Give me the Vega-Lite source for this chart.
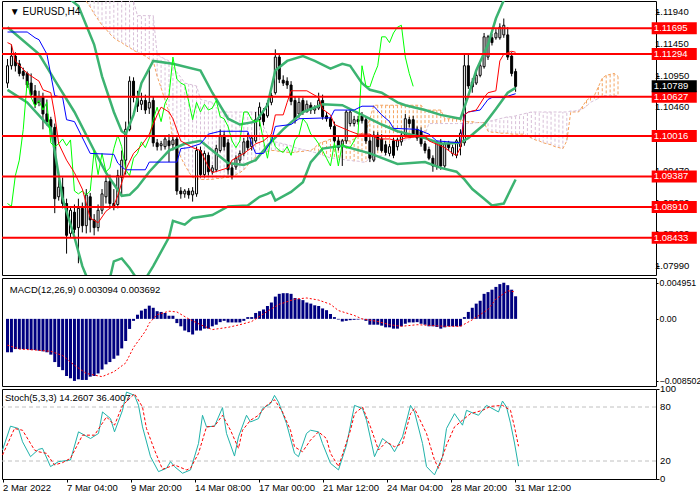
{
  "$schema": "https://vega.github.io/schema/vega-lite/v6.json",
  "background": "white",
  "padding": 0,
  "spacing": 3,
  "bounds": "flush",
  "config": {
    "view": {"stroke": "#000", "strokeWidth": 1},
    "axis": {"grid": false, "domain": false, "labelOverlap": false, "labelFont": "Liberation Sans", "labelFontSize": 9.5, "labelColor": "#000", "tickColor": "#000", "tickSize": 3, "labelPadding": 2},
    "text": {"font": "Liberation Sans"}
  },
  "datasets": {
    "candles": [
      {"i":0,"o":1.1084,"h":1.11215,"l":1.10765,"c":1.1111},
      {"i":1,"o":1.1111,"h":1.1144,"l":1.1105,"c":1.1126},
      {"i":2,"o":1.1126,"h":1.1132,"l":1.1102,"c":1.1111},
      {"i":3,"o":1.1114,"h":1.112,"l":1.10945,"c":1.1099},
      {"i":4,"o":1.1102,"h":1.1108,"l":1.109,"c":1.1096},
      {"i":5,"o":1.1099,"h":1.1102,"l":1.10765,"c":1.1081},
      {"i":6,"o":1.1084,"h":1.1099,"l":1.10615,"c":1.1066},
      {"i":7,"o":1.1072,"h":1.1081,"l":1.1045,"c":1.1051},
      {"i":8,"o":1.1054,"h":1.1072,"l":1.1048,"c":1.1063},
      {"i":9,"o":1.1063,"h":1.1069,"l":1.1012,"c":1.1036},
      {"i":10,"o":1.1036,"h":1.10585,"l":1.1018,"c":1.1024},
      {"i":11,"o":1.1027,"h":1.10315,"l":1.1012,"c":1.1015},
      {"i":12,"o":1.1015,"h":1.1021,"l":1.08815,"c":1.0904},
      {"i":13,"o":1.0907,"h":1.0934,"l":1.0901,"c":1.0922},
      {"i":14,"o":1.0922,"h":1.0937,"l":1.0889,"c":1.08965},
      {"i":15,"o":1.08965,"h":1.0904,"l":1.08185,"c":1.0847},
      {"i":16,"o":1.085,"h":1.0892,"l":1.0844,"c":1.0886},
      {"i":17,"o":1.0883,"h":1.0895,"l":1.085,"c":1.0856},
      {"i":18,"o":1.0859,"h":1.0904,"l":1.08035,"c":1.0889},
      {"i":19,"o":1.0889,"h":1.0898,"l":1.08515,"c":1.0862},
      {"i":20,"o":1.0862,"h":1.0919,"l":1.085,"c":1.091},
      {"i":21,"o":1.0907,"h":1.0913,"l":1.08515,"c":1.0871},
      {"i":22,"o":1.0871,"h":1.088,"l":1.0847,"c":1.0859},
      {"i":23,"o":1.0859,"h":1.0895,"l":1.0853,"c":1.0886},
      {"i":24,"o":1.0886,"h":1.0919,"l":1.088,"c":1.09115},
      {"i":25,"o":1.0907,"h":1.094,"l":1.08965,"c":1.0931},
      {"i":26,"o":1.0931,"h":1.09415,"l":1.0889,"c":1.08965},
      {"i":27,"o":1.08965,"h":1.0919,"l":1.0886,"c":1.0892},
      {"i":28,"o":1.0895,"h":1.0949,"l":1.0889,"c":1.094},
      {"i":29,"o":1.0937,"h":1.0979,"l":1.0907,"c":1.0964},
      {"i":30,"o":1.0964,"h":1.1024,"l":1.09415,"c":1.1012},
      {"i":31,"o":1.1012,"h":1.10945,"l":1.1009,"c":1.1087},
      {"i":32,"o":1.1087,"h":1.1093,"l":1.1054,"c":1.10615},
      {"i":33,"o":1.10615,"h":1.1072,"l":1.1039,"c":1.1048},
      {"i":34,"o":1.1051,"h":1.1069,"l":1.1042,"c":1.1057},
      {"i":35,"o":1.1057,"h":1.1066,"l":1.1036,"c":1.1042},
      {"i":36,"o":1.1045,"h":1.11065,"l":1.1036,"c":1.1054},
      {"i":37,"o":1.1057,"h":1.1063,"l":1.0985,"c":1.0991},
      {"i":38,"o":1.0991,"h":1.0997,"l":1.0979,"c":1.0985},
      {"i":39,"o":1.09865,"h":1.0994,"l":1.0979,"c":1.09895},
      {"i":40,"o":1.0985,"h":1.10015,"l":1.09805,"c":1.0997},
      {"i":41,"o":1.0994,"h":1.10045,"l":1.0961,"c":1.09865},
      {"i":42,"o":1.0988,"h":1.1,"l":1.0979,"c":1.09955},
      {"i":43,"o":1.0997,"h":1.1,"l":1.091,"c":1.0916},
      {"i":44,"o":1.0916,"h":1.0922,"l":1.0904,"c":1.09115},
      {"i":45,"o":1.09115,"h":1.0919,"l":1.09055,"c":1.0916},
      {"i":46,"o":1.0916,"h":1.09205,"l":1.0904,"c":1.091},
      {"i":47,"o":1.091,"h":1.0922,"l":1.08995,"c":1.0916},
      {"i":48,"o":1.09115,"h":1.0985,"l":1.0907,"c":1.0979},
      {"i":49,"o":1.0979,"h":1.0985,"l":1.0937,"c":1.09415},
      {"i":50,"o":1.09415,"h":1.0979,"l":1.0937,"c":1.09745},
      {"i":51,"o":1.09715,"h":1.0976,"l":1.094,"c":1.0946},
      {"i":52,"o":1.0946,"h":1.09565,"l":1.09415,"c":1.0952},
      {"i":53,"o":1.0949,"h":1.0988,"l":1.0946,"c":1.0982},
      {"i":54,"o":1.0979,"h":1.1012,"l":1.0976,"c":1.1003},
      {"i":55,"o":1.1003,"h":1.1009,"l":1.0979,"c":1.0985},
      {"i":56,"o":1.0991,"h":1.0997,"l":1.09415,"c":1.0949},
      {"i":57,"o":1.0952,"h":1.0958,"l":1.0934,"c":1.094},
      {"i":58,"o":1.09535,"h":1.09715,"l":1.0949,"c":1.0967},
      {"i":59,"o":1.0964,"h":1.0979,"l":1.09595,"c":1.09745},
      {"i":60,"o":1.09745,"h":1.09985,"l":1.097,"c":1.09925},
      {"i":61,"o":1.0994,"h":1.1006,"l":1.0979,"c":1.09835},
      {"i":62,"o":1.0985,"h":1.1003,"l":1.0979,"c":1.09985},
      {"i":63,"o":1.0994,"h":1.1039,"l":1.0991,"c":1.1027},
      {"i":64,"o":1.1027,"h":1.1054,"l":1.10165,"c":1.10465},
      {"i":65,"o":1.1036,"h":1.1045,"l":1.1018,"c":1.1024},
      {"i":66,"o":1.1033,"h":1.1057,"l":1.103,"c":1.10525},
      {"i":67,"o":1.1054,"h":1.1069,"l":1.10495,"c":1.10645},
      {"i":68,"o":1.1069,"h":1.11365,"l":1.1066,"c":1.11245},
      {"i":69,"o":1.11245,"h":1.1129,"l":1.1084,"c":1.109},
      {"i":70,"o":1.10885,"h":1.1096,"l":1.10795,"c":1.1084},
      {"i":71,"o":1.1087,"h":1.1093,"l":1.1075,"c":1.1081},
      {"i":72,"o":1.1081,"h":1.1087,"l":1.10495,"c":1.10555},
      {"i":73,"o":1.1057,"h":1.1063,"l":1.1021,"c":1.1027},
      {"i":74,"o":1.1036,"h":1.10615,"l":1.103,"c":1.1054},
      {"i":75,"o":1.1057,"h":1.10615,"l":1.10345,"c":1.1039},
      {"i":76,"o":1.1039,"h":1.1057,"l":1.1039,"c":1.1051},
      {"i":77,"o":1.10495,"h":1.1054,"l":1.1036,"c":1.1042},
      {"i":78,"o":1.1042,"h":1.10495,"l":1.1036,"c":1.1045},
      {"i":79,"o":1.1045,"h":1.1069,"l":1.1042,"c":1.1057},
      {"i":80,"o":1.1057,"h":1.1066,"l":1.1027,"c":1.10315},
      {"i":81,"o":1.1033,"h":1.1039,"l":1.1024,"c":1.10285},
      {"i":82,"o":1.10285,"h":1.10315,"l":1.1012,"c":1.10165},
      {"i":83,"o":1.10165,"h":1.1024,"l":1.0991,"c":1.0994},
      {"i":84,"o":1.0994,"h":1.1,"l":1.0979,"c":1.09835},
      {"i":85,"o":1.0985,"h":1.0997,"l":1.0955,"c":1.0994},
      {"i":86,"o":1.0994,"h":1.1042,"l":1.09895,"c":1.1039},
      {"i":87,"o":1.1021,"h":1.1045,"l":1.10165,"c":1.1039},
      {"i":88,"o":1.1021,"h":1.1033,"l":1.10165,"c":1.1027},
      {"i":89,"o":1.1027,"h":1.1033,"l":1.10195,"c":1.1024},
      {"i":90,"o":1.1033,"h":1.1039,"l":1.1021,"c":1.10255},
      {"i":91,"o":1.1027,"h":1.10315,"l":1.09895,"c":1.0994},
      {"i":92,"o":1.0994,"h":1.1,"l":1.0961,"c":1.0967},
      {"i":93,"o":1.0964,"h":1.1009,"l":1.0961,"c":1.1003},
      {"i":94,"o":1.1003,"h":1.10075,"l":1.0979,"c":1.0985},
      {"i":95,"o":1.0997,"h":1.10045,"l":1.0976,"c":1.0979},
      {"i":96,"o":1.0988,"h":1.0994,"l":1.09715,"c":1.0976},
      {"i":97,"o":1.09745,"h":1.09895,"l":1.097,"c":1.0985},
      {"i":98,"o":1.0994,"h":1.09985,"l":1.0967,"c":1.09715},
      {"i":99,"o":1.0985,"h":1.09985,"l":1.0979,"c":1.09955},
      {"i":100,"o":1.09925,"h":1.1009,"l":1.09865,"c":1.1003},
      {"i":101,"o":1.1003,"h":1.1036,"l":1.1,"c":1.10285},
      {"i":102,"o":1.1027,"h":1.10315,"l":1.1015,"c":1.1021},
      {"i":103,"o":1.1027,"h":1.1033,"l":1.1,"c":1.10045},
      {"i":104,"o":1.1012,"h":1.10165,"l":1.0994,"c":1.09985},
      {"i":105,"o":1.1009,"h":1.1015,"l":1.0985,"c":1.09895},
      {"i":106,"o":1.09895,"h":1.0994,"l":1.09745,"c":1.0979},
      {"i":107,"o":1.09805,"h":1.0985,"l":1.0964,"c":1.0967},
      {"i":108,"o":1.0967,"h":1.09715,"l":1.0946,"c":1.0955},
      {"i":109,"o":1.0955,"h":1.0994,"l":1.0949,"c":1.0991},
      {"i":110,"o":1.0991,"h":1.0997,"l":1.0949,"c":1.0955},
      {"i":111,"o":1.0955,"h":1.0994,"l":1.0952,"c":1.09895},
      {"i":112,"o":1.09895,"h":1.0994,"l":1.0979,"c":1.09835},
      {"i":113,"o":1.09745,"h":1.0988,"l":1.097,"c":1.09835},
      {"i":114,"o":1.09715,"h":1.0997,"l":1.0967,"c":1.0994},
      {"i":115,"o":1.0985,"h":1.1012,"l":1.09715,"c":1.1006},
      {"i":116,"o":1.0991,"h":1.1129,"l":1.09865,"c":1.1111},
      {"i":117,"o":1.1111,"h":1.1129,"l":1.1075,"c":1.10795},
      {"i":118,"o":1.10855,"h":1.10915,"l":1.1069,"c":1.1078},
      {"i":119,"o":1.1084,"h":1.1102,"l":1.1081,"c":1.1096},
      {"i":120,"o":1.1096,"h":1.1117,"l":1.1093,"c":1.1111},
      {"i":121,"o":1.11095,"h":1.1162,"l":1.11065,"c":1.1156},
      {"i":122,"o":1.11245,"h":1.1159,"l":1.112,"c":1.1156},
      {"i":123,"o":1.11545,"h":1.11605,"l":1.11425,"c":1.1147},
      {"i":124,"o":1.11545,"h":1.1168,"l":1.11515,"c":1.1162},
      {"i":125,"o":1.11545,"h":1.1177,"l":1.11515,"c":1.1171},
      {"i":126,"o":1.1159,"h":1.11845,"l":1.11545,"c":1.1174},
      {"i":127,"o":1.1159,"h":1.1171,"l":1.112,"c":1.11245},
      {"i":128,"o":1.1126,"h":1.1132,"l":1.10945,"c":1.1099},
      {"i":129,"o":1.1102,"h":1.11065,"l":1.10705,"c":1.10789}
    ],
    "cloud": [
      {"i":20,"a":1.12115,"b":1.1234},{"i":21,"a":1.12025,"b":1.12325},{"i":22,"a":1.1192,"b":1.1231},{"i":23,"a":1.1183,"b":1.1228},
      {"i":24,"a":1.1174,"b":1.12265},{"i":25,"a":1.1168,"b":1.1225},{"i":26,"a":1.11605,"b":1.12235},{"i":27,"a":1.11545,"b":1.12205},
      {"i":28,"a":1.115,"b":1.1219},{"i":29,"a":1.1147,"b":1.12175},{"i":30,"a":1.11425,"b":1.1216},{"i":31,"a":1.11395,"b":1.1213},
      {"i":32,"a":1.1135,"b":1.12115},{"i":33,"a":1.1132,"b":1.1189},{"i":34,"a":1.1129,"b":1.1189},{"i":35,"a":1.1126,"b":1.1189},
      {"i":36,"a":1.11215,"b":1.1189},{"i":37,"a":1.11185,"b":1.1189},{"i":38,"a":1.10945,"b":1.1129},{"i":39,"a":1.10765,"b":1.11245},
      {"i":40,"a":1.1057,"b":1.11215},{"i":41,"a":1.1039,"b":1.11185},{"i":42,"a":1.0994,"b":1.11095},{"i":43,"a":1.0982,"b":1.11005},
      {"i":44,"a":1.09685,"b":1.1093},{"i":45,"a":1.09565,"b":1.1084},{"i":46,"a":1.0946,"b":1.10825},{"i":47,"a":1.0937,"b":1.1081},
      {"i":48,"a":1.09355,"b":1.10795},{"i":49,"a":1.0934,"b":1.10585},{"i":50,"a":1.0934,"b":1.1057},{"i":51,"a":1.0934,"b":1.10555},
      {"i":52,"a":1.0934,"b":1.1054},{"i":53,"a":1.09355,"b":1.10465},{"i":54,"a":1.09355,"b":1.1039},{"i":55,"a":1.0937,"b":1.1039},
      {"i":56,"a":1.0937,"b":1.1039},{"i":57,"a":1.0937,"b":1.1039},{"i":58,"a":1.09415,"b":1.1039},{"i":59,"a":1.09445,"b":1.1039},
      {"i":60,"a":1.0949,"b":1.1039},{"i":61,"a":1.09565,"b":1.1039},{"i":62,"a":1.0964,"b":1.1039},{"i":63,"a":1.09685,"b":1.1039},
      {"i":64,"a":1.09715,"b":1.1039},{"i":65,"a":1.0976,"b":1.10165},{"i":66,"a":1.09775,"b":1.10045},{"i":67,"a":1.0979,"b":1.0994},
      {"i":68,"a":1.0979,"b":1.09925},{"i":69,"a":1.09775,"b":1.0991},{"i":70,"a":1.09775,"b":1.09895},{"i":71,"a":1.0976,"b":1.0988},
      {"i":72,"a":1.0976,"b":1.09865},{"i":73,"a":1.0976,"b":1.09835},{"i":74,"a":1.09775,"b":1.0982},{"i":75,"a":1.09775,"b":1.09805},
      {"i":76,"a":1.0979,"b":1.0979},{"i":77,"a":1.0979,"b":1.09775},{"i":78,"a":1.09835,"b":1.0976},{"i":79,"a":1.09895,"b":1.09745},
      {"i":80,"a":1.09925,"b":1.09715},{"i":81,"a":1.0994,"b":1.097},{"i":82,"a":1.0997,"b":1.0967},{"i":83,"a":1.0997,"b":1.0967},
      {"i":84,"a":1.09955,"b":1.09655},{"i":85,"a":1.09955,"b":1.09655},{"i":86,"a":1.0994,"b":1.0964},{"i":87,"a":1.0994,"b":1.0964},
      {"i":88,"a":1.0997,"b":1.09625},{"i":89,"a":1.10015,"b":1.09625},{"i":90,"a":1.1006,"b":1.0961},{"i":91,"a":1.1009,"b":1.0961},
      {"i":92,"a":1.10285,"b":1.09685},{"i":93,"a":1.10495,"b":1.097},{"i":94,"a":1.10495,"b":1.097},{"i":95,"a":1.10495,"b":1.09715},
      {"i":96,"a":1.10495,"b":1.09715},{"i":97,"a":1.10495,"b":1.09775},{"i":98,"a":1.10495,"b":1.0982},{"i":99,"a":1.10495,"b":1.0988},
      {"i":100,"a":1.10495,"b":1.0994},{"i":101,"a":1.10495,"b":1.09955},{"i":102,"a":1.10495,"b":1.0997},{"i":103,"a":1.10495,"b":1.1},
      {"i":104,"a":1.10495,"b":1.10015},{"i":105,"a":1.10495,"b":1.1003},{"i":106,"a":1.1042,"b":1.10045},{"i":107,"a":1.1042,"b":1.1021},
      {"i":108,"a":1.1042,"b":1.1021},{"i":109,"a":1.1042,"b":1.1021},{"i":110,"a":1.1042,"b":1.1021},{"i":111,"a":1.10285,"b":1.1021},
      {"i":112,"a":1.10285,"b":1.1021},{"i":113,"a":1.10285,"b":1.1021},{"i":114,"a":1.10285,"b":1.1021},{"i":115,"a":1.10285,"b":1.1021},
      {"i":116,"a":1.1024,"b":1.1021},{"i":117,"a":1.1024,"b":1.1021},{"i":118,"a":1.1024,"b":1.1021},{"i":119,"a":1.10225,"b":1.10225},
      {"i":120,"a":1.10225,"b":1.10225},{"i":121,"a":1.10225,"b":1.10225},{"i":122,"a":1.1009,"b":1.1024},{"i":123,"a":1.10075,"b":1.10255},
      {"i":124,"a":1.10075,"b":1.1027},{"i":125,"a":1.1006,"b":1.10285},{"i":126,"a":1.1006,"b":1.103},{"i":127,"a":1.1006,"b":1.10315},
      {"i":128,"a":1.10045,"b":1.10315},{"i":129,"a":1.10045,"b":1.1033},{"i":130,"a":1.10045,"b":1.10345},{"i":131,"a":1.10045,"b":1.1036},
      {"i":132,"a":1.10015,"b":1.10375},{"i":133,"a":1.09985,"b":1.1039},{"i":134,"a":1.09955,"b":1.1039},{"i":135,"a":1.0994,"b":1.1039},
      {"i":136,"a":1.0991,"b":1.1039},{"i":137,"a":1.09895,"b":1.1039},{"i":138,"a":1.0988,"b":1.1039},{"i":139,"a":1.0985,"b":1.1039},
      {"i":140,"a":1.09835,"b":1.1039},{"i":141,"a":1.0982,"b":1.1039},{"i":142,"a":1.0994,"b":1.1039},{"i":143,"a":1.1039,"b":1.10405},
      {"i":144,"a":1.1039,"b":1.10405},{"i":145,"a":1.1039,"b":1.1042},{"i":146,"a":1.1048,"b":1.10435},{"i":147,"a":1.1057,"b":1.1048},
      {"i":148,"a":1.10615,"b":1.1054},{"i":149,"a":1.10645,"b":1.1057},{"i":150,"a":1.1078,"b":1.106},{"i":151,"a":1.10915,"b":1.10645},
      {"i":152,"a":1.1096,"b":1.10645},{"i":153,"a":1.10975,"b":1.10645},{"i":154,"a":1.1099,"b":1.10645},{"i":155,"a":1.10945,"b":1.10645}
    ],
    "bb": [
      {"i":0,"s":"up","v":1.12685},{"i":4,"s":"up","v":1.12565},{"i":8,"s":"up","v":1.12415},{"i":12,"s":"up","v":1.1234},{"i":15,"s":"up","v":1.1219},
      {"i":18,"s":"up","v":1.1204},{"i":22,"s":"up","v":1.1144},{"i":24,"s":"up","v":1.10945},{"i":27,"s":"up","v":1.1039},{"i":29,"s":"up","v":1.1009},
      {"i":30,"s":"up","v":1.10045},{"i":32,"s":"up","v":1.10345},{"i":34,"s":"up","v":1.1084},{"i":37,"s":"up","v":1.11185},{"i":42,"s":"up","v":1.1114},
      {"i":49,"s":"up","v":1.11035},{"i":52,"s":"up","v":1.1069},{"i":56,"s":"up","v":1.10285},{"i":59,"s":"up","v":1.10195},{"i":63,"s":"up","v":1.1024},
      {"i":66,"s":"up","v":1.10495},{"i":68,"s":"up","v":1.11035},{"i":71,"s":"up","v":1.11185},{"i":75,"s":"up","v":1.1126},{"i":78,"s":"up","v":1.11185},
      {"i":82,"s":"up","v":1.11065},{"i":85,"s":"up","v":1.1114},{"i":87,"s":"up","v":1.1111},{"i":90,"s":"up","v":1.1084},{"i":92,"s":"up","v":1.10735},
      {"i":95,"s":"up","v":1.1069},{"i":99,"s":"up","v":1.1054},{"i":101,"s":"up","v":1.10495},{"i":106,"s":"up","v":1.1042},{"i":110,"s":"up","v":1.10345},
      {"i":115,"s":"up","v":1.10285},{"i":117,"s":"up","v":1.10645},{"i":119,"s":"up","v":1.11035},{"i":122,"s":"up","v":1.1144},{"i":124,"s":"up","v":1.11845},
      {"i":126,"s":"up","v":1.1213},{"i":129,"s":"up","v":1.1249},
      {"i":0,"s":"mid","v":1.1171},{"i":8,"s":"mid","v":1.1129},{"i":12,"s":"mid","v":1.10885},{"i":17,"s":"mid","v":1.1039},{"i":22,"s":"mid","v":1.0979},
      {"i":25,"s":"mid","v":1.09445},{"i":29,"s":"mid","v":1.09085},{"i":31,"s":"mid","v":1.091},{"i":33,"s":"mid","v":1.0922},{"i":36,"s":"mid","v":1.0946},
      {"i":41,"s":"mid","v":1.0979},{"i":45,"s":"mid","v":1.09895},{"i":49,"s":"mid","v":1.0994},{"i":52,"s":"mid","v":1.0979},{"i":56,"s":"mid","v":1.09595},
      {"i":60,"s":"mid","v":1.09565},{"i":63,"s":"mid","v":1.0964},{"i":66,"s":"mid","v":1.09865},{"i":70,"s":"mid","v":1.1012},{"i":75,"s":"mid","v":1.1039},
      {"i":80,"s":"mid","v":1.1051},{"i":85,"s":"mid","v":1.10495},{"i":90,"s":"mid","v":1.10345},{"i":95,"s":"mid","v":1.10195},{"i":99,"s":"mid","v":1.1009},
      {"i":102,"s":"mid","v":1.10045},{"i":106,"s":"mid","v":1.09985},{"i":110,"s":"mid","v":1.09895},{"i":115,"s":"mid","v":1.0991},{"i":117,"s":"mid","v":1.09985},
      {"i":121,"s":"mid","v":1.10195},{"i":124,"s":"mid","v":1.10435},{"i":127,"s":"mid","v":1.1069},{"i":129,"s":"mid","v":1.10765},
      {"i":0,"s":"lo","v":1.10735},{"i":5,"s":"lo","v":1.1054},{"i":11,"s":"lo","v":1.10135},{"i":14,"s":"lo","v":1.0904},{"i":17,"s":"lo","v":1.0844},
      {"i":19,"s":"lo","v":1.0799},{"i":22,"s":"lo","v":1.0754},{"i":25,"s":"lo","v":1.0754},{"i":27,"s":"lo","v":1.08065},{"i":29,"s":"lo","v":1.0811},
      {"i":31,"s":"lo","v":1.0796},{"i":34,"s":"lo","v":1.0769},{"i":37,"s":"lo","v":1.0799},{"i":41,"s":"lo","v":1.0844},{"i":42,"s":"lo","v":1.08695},
      {"i":45,"s":"lo","v":1.08635},{"i":47,"s":"lo","v":1.0874},{"i":52,"s":"lo","v":1.08785},{"i":56,"s":"lo","v":1.0892},{"i":61,"s":"lo","v":1.08935},
      {"i":64,"s":"lo","v":1.0907},{"i":66,"s":"lo","v":1.09115},{"i":67,"s":"lo","v":1.09145},{"i":68,"s":"lo","v":1.0901},{"i":72,"s":"lo","v":1.09145},
      {"i":75,"s":"lo","v":1.09295},{"i":77,"s":"lo","v":1.0961},{"i":80,"s":"lo","v":1.0982},{"i":85,"s":"lo","v":1.09865},{"i":92,"s":"lo","v":1.09745},
      {"i":99,"s":"lo","v":1.0958},{"i":106,"s":"lo","v":1.0961},{"i":110,"s":"lo","v":1.0952},{"i":114,"s":"lo","v":1.0946},{"i":116,"s":"lo","v":1.0934},
      {"i":118,"s":"lo","v":1.0919},{"i":121,"s":"lo","v":1.0904},{"i":123,"s":"lo","v":1.08935},{"i":126,"s":"lo","v":1.08965},{"i":129,"s":"lo","v":1.0934}
    ],
    "tenkan": [
      {"i":0,"v":1.1147},{"i":1,"v":1.1144},{"i":2,"v":1.11185},{"i":5,"v":1.1099},{"i":8,"v":1.1087},{"i":9,"v":1.10735},{"i":11,"v":1.1069},
      {"i":12,"v":1.10345},{"i":13,"v":1.09895},{"i":15,"v":1.0964},{"i":17,"v":1.09445},{"i":19,"v":1.0919},{"i":21,"v":1.0874},{"i":23,"v":1.08665},
      {"i":25,"v":1.08845},{"i":27,"v":1.08935},{"i":28,"v":1.09085},{"i":30,"v":1.0949},{"i":32,"v":1.09745},{"i":34,"v":1.09865},{"i":36,"v":1.10045},
      {"i":38,"v":1.10345},{"i":39,"v":1.10465},{"i":41,"v":1.1039},{"i":42,"v":1.10285},{"i":44,"v":1.0994},{"i":47,"v":1.09835},{"i":49,"v":1.0979},
      {"i":51,"v":1.09535},{"i":52,"v":1.09445},{"i":56,"v":1.0952},{"i":57,"v":1.0964},{"i":60,"v":1.09745},{"i":62,"v":1.09835},{"i":63,"v":1.09895},
      {"i":65,"v":1.0994},{"i":67,"v":1.10045},{"i":68,"v":1.10345},{"i":70,"v":1.10345},{"i":71,"v":1.1054},{"i":72,"v":1.1072},{"i":76,"v":1.1072},
      {"i":79,"v":1.10615},{"i":80,"v":1.10435},{"i":82,"v":1.10345},{"i":83,"v":1.10195},{"i":87,"v":1.1009},{"i":89,"v":1.10045},{"i":92,"v":1.10045},
      {"i":94,"v":1.0997},{"i":97,"v":1.0997},{"i":99,"v":1.0994},{"i":101,"v":1.09985},{"i":106,"v":1.10015},{"i":107,"v":1.0994},{"i":111,"v":1.09835},
      {"i":113,"v":1.09745},{"i":114,"v":1.09715},{"i":115,"v":1.09835},{"i":116,"v":1.10345},{"i":117,"v":1.1039},{"i":119,"v":1.1042},{"i":121,"v":1.10615},
      {"i":122,"v":1.1069},{"i":124,"v":1.1072},{"i":125,"v":1.11185},{"i":126,"v":1.1129},{"i":128,"v":1.11335},{"i":129,"v":1.1132}
    ],
    "kijun": [
      {"i":0,"v":1.11635},{"i":5,"v":1.11635},{"i":7,"v":1.11545},{"i":8,"v":1.11515},{"i":10,"v":1.1129},{"i":12,"v":1.10645},{"i":14,"v":1.10615},
      {"i":15,"v":1.1027},{"i":17,"v":1.1024},{"i":21,"v":1.09745},{"i":27,"v":1.0973},{"i":28,"v":1.09595},{"i":29,"v":1.09535},{"i":30,"v":1.0949},
      {"i":35,"v":1.0949},{"i":36,"v":1.0961},{"i":43,"v":1.0961},{"i":44,"v":1.0982},{"i":46,"v":1.09835},{"i":49,"v":1.09895},{"i":51,"v":1.10045},
      {"i":54,"v":1.1009},{"i":61,"v":1.1009},{"i":62,"v":1.09895},{"i":63,"v":1.09745},{"i":65,"v":1.09745},{"i":67,"v":1.0994},{"i":68,"v":1.10165},
      {"i":72,"v":1.10195},{"i":74,"v":1.10285},{"i":82,"v":1.103},{"i":83,"v":1.1042},{"i":88,"v":1.1042},{"i":90,"v":1.1048},{"i":93,"v":1.1048},
      {"i":95,"v":1.10345},{"i":97,"v":1.1024},{"i":98,"v":1.10135},{"i":104,"v":1.1012},{"i":107,"v":1.10045},{"i":109,"v":1.0994},{"i":115,"v":1.0991},
      {"i":116,"v":1.10345},{"i":117,"v":1.1039},{"i":120,"v":1.1042},{"i":122,"v":1.10585},{"i":123,"v":1.10615},{"i":126,"v":1.10615},{"i":129,"v":1.10675}
    ],
    "chikou": [
      {"i":0,"v":1.08965},{"i":1,"v":1.0892},{"i":2,"v":1.094},{"i":3,"v":1.0964},{"i":4,"v":1.1012},{"i":5,"v":1.1087},{"i":6,"v":1.10615},
      {"i":7,"v":1.1048},{"i":8,"v":1.1057},{"i":9,"v":1.1042},{"i":10,"v":1.1054},{"i":11,"v":1.0991},{"i":12,"v":1.0985},{"i":13,"v":1.09895},
      {"i":14,"v":1.0997},{"i":15,"v":1.09865},{"i":16,"v":1.09955},{"i":17,"v":1.0916},{"i":18,"v":1.09115},{"i":19,"v":1.0916},{"i":20,"v":1.091},
      {"i":21,"v":1.0916},{"i":22,"v":1.0979},{"i":23,"v":1.09415},{"i":24,"v":1.09745},{"i":25,"v":1.0946},{"i":26,"v":1.0952},{"i":27,"v":1.0982},
      {"i":28,"v":1.1003},{"i":29,"v":1.0985},{"i":30,"v":1.0949},{"i":31,"v":1.094},{"i":32,"v":1.0967},{"i":33,"v":1.09745},{"i":34,"v":1.09925},
      {"i":35,"v":1.09835},{"i":36,"v":1.09985},{"i":37,"v":1.1027},{"i":38,"v":1.10465},{"i":39,"v":1.1024},{"i":40,"v":1.10525},{"i":41,"v":1.10645},
      {"i":42,"v":1.11245},{"i":43,"v":1.109},{"i":44,"v":1.1084},{"i":45,"v":1.1081},{"i":46,"v":1.10555},{"i":47,"v":1.1027},{"i":48,"v":1.1054},
      {"i":49,"v":1.1039},{"i":50,"v":1.1051},{"i":51,"v":1.1042},{"i":52,"v":1.1045},{"i":53,"v":1.1057},{"i":54,"v":1.10315},{"i":55,"v":1.10285},
      {"i":56,"v":1.10165},{"i":57,"v":1.0994},{"i":58,"v":1.09835},{"i":59,"v":1.0994},{"i":60,"v":1.1039},{"i":61,"v":1.1039},{"i":62,"v":1.1027},
      {"i":63,"v":1.1024},{"i":64,"v":1.10255},{"i":65,"v":1.0994},{"i":66,"v":1.0967},{"i":67,"v":1.1003},{"i":68,"v":1.0985},{"i":69,"v":1.0979},
      {"i":70,"v":1.0976},{"i":71,"v":1.0985},{"i":72,"v":1.09715},{"i":73,"v":1.09955},{"i":74,"v":1.1003},{"i":75,"v":1.10285},{"i":76,"v":1.1021},
      {"i":77,"v":1.10045},{"i":78,"v":1.09985},{"i":79,"v":1.09895},{"i":80,"v":1.0979},{"i":81,"v":1.0967},{"i":82,"v":1.0955},{"i":83,"v":1.0991},
      {"i":84,"v":1.0955},{"i":85,"v":1.09895},{"i":86,"v":1.09835},{"i":87,"v":1.09835},{"i":88,"v":1.0994},{"i":89,"v":1.1006},{"i":90,"v":1.1111},
      {"i":91,"v":1.10795},{"i":92,"v":1.1078},{"i":93,"v":1.1096},{"i":94,"v":1.1111},{"i":95,"v":1.1156},{"i":96,"v":1.1156},{"i":97,"v":1.1147},
      {"i":98,"v":1.1162},{"i":99,"v":1.1171},{"i":100,"v":1.1174},{"i":101,"v":1.11245},{"i":102,"v":1.1099},{"i":103,"v":1.10789}
    ],
    "levels": [{"p":1.11695},{"p":1.11294},{"p":1.10627},{"p":1.10016},{"p":1.09387},{"p":1.0891},{"p":1.08433}],
    "last": [{"p":1.10789}],
    "macd": [
      {"i":0,"h":-0.00458},{"i":1,"h":-0.00458},{"i":2,"h":-0.00414},{"i":3,"h":-0.00414},{"i":4,"h":-0.00414},{"i":5,"h":-0.00414},
      {"i":6,"h":-0.00427},{"i":7,"h":-0.00427},{"i":8,"h":-0.00436},{"i":9,"h":-0.00445},{"i":10,"h":-0.00458},{"i":11,"h":-0.0049},
      {"i":12,"h":-0.00592},{"i":13,"h":-0.00659},{"i":14,"h":-0.00703},{"i":15,"h":-0.00783},{"i":16,"h":-0.00814},{"i":17,"h":-0.008502},
      {"i":18,"h":-0.00828},{"i":19,"h":-0.00837},{"i":20,"h":-0.00837},{"i":21,"h":-0.00792},{"i":22,"h":-0.00783},{"i":23,"h":-0.00748},
      {"i":24,"h":-0.00694},{"i":25,"h":-0.00623},{"i":26,"h":-0.00592},{"i":27,"h":-0.00547},{"i":28,"h":-0.00503},{"i":29,"h":-0.00405},
      {"i":30,"h":-0.00303},{"i":31,"h":-0.00138},{"i":32,"h":-0.00027},{"i":33,"h":0.00057},{"i":34,"h":0.00114},{"i":35,"h":0.00138},
      {"i":36,"h":0.00181},{"i":37,"h":0.00152},{"i":38,"h":0.00105},{"i":39,"h":0.00095},{"i":40,"h":0.00081},{"i":41,"h":0.00043},
      {"i":42,"h":0.00043},{"i":43,"h":-0.00058},{"i":44,"h":-0.00102},{"i":45,"h":-0.0016},{"i":46,"h":-0.00182},{"i":47,"h":-0.00214},
      {"i":48,"h":-0.0016},{"i":49,"h":-0.0016},{"i":50,"h":-0.00134},{"i":51,"h":-0.00134},{"i":52,"h":-0.00102},{"i":53,"h":-0.0008},
      {"i":54,"h":-0.00045},{"i":55,"h":-0.00027},{"i":56,"h":-0.00049},{"i":57,"h":-0.00049},{"i":58,"h":-0.00049},{"i":59,"h":-0.00049},
      {"i":60,"h":-0.00027},{"i":61,"h":0.00024},{"i":62,"h":0.00024},{"i":63,"h":0.00081},{"i":64,"h":0.00105},{"i":65,"h":0.00129},
      {"i":66,"h":0.00176},{"i":67,"h":0.00224},{"i":68,"h":0.00305},{"i":69,"h":0.00343},{"i":70,"h":0.00352},{"i":71,"h":0.00352},
      {"i":72,"h":0.00343},{"i":73,"h":0.00286},{"i":74,"h":0.00271},{"i":75,"h":0.00257},{"i":76,"h":0.00224},{"i":77,"h":0.00209},
      {"i":78,"h":0.00186},{"i":79,"h":0.00176},{"i":80,"h":0.00143},{"i":81,"h":0.00119},{"i":82,"h":0.00067},{"i":83,"h":0.00024},
      {"i":84,"h":-0.00009},{"i":85,"h":-0.00036},{"i":86,"h":-0.00027},{"i":87,"h":-0.00018},{"i":88,"h":-0.00013},{"i":89,"h":-0.00009},
      {"i":90,"h":-0.00004},{"i":91,"h":-0.00027},{"i":92,"h":-0.0008},{"i":93,"h":-0.0008},{"i":94,"h":-0.0008},{"i":95,"h":-0.00093},
      {"i":96,"h":-0.00116},{"i":97,"h":-0.00116},{"i":98,"h":-0.00134},{"i":99,"h":-0.00134},{"i":100,"h":-0.00102},{"i":101,"h":-0.00067},
      {"i":102,"h":-0.00049},{"i":103,"h":-0.00049},{"i":104,"h":-0.00045},{"i":105,"h":-0.00067},{"i":106,"h":-0.0008},{"i":107,"h":-0.00102},
      {"i":108,"h":-0.00102},{"i":109,"h":-0.00111},{"i":110,"h":-0.00134},{"i":111,"h":-0.00116},{"i":112,"h":-0.00102},{"i":113,"h":-0.00102},
      {"i":114,"h":-0.00102},{"i":115,"h":-0.00102},{"i":116,"h":0.00024},{"i":117,"h":0.00095},{"i":118,"h":0.00152},{"i":119,"h":0.00209},
      {"i":120,"h":0.00248},{"i":121,"h":0.00343},{"i":122,"h":0.00367},{"i":123,"h":0.004},{"i":124,"h":0.00438},{"i":125,"h":0.00476},
      {"i":126,"h":0.004951},{"i":127,"h":0.00462},{"i":128,"h":0.004},{"i":129,"h":0.003094}
    ],
    "signal": [
      {"i":0,"v":-0.0036},{"i":3,"v":-0.00414},{"i":7,"v":-0.00427},{"i":11,"v":-0.00445},{"i":14,"v":-0.00503},{"i":17,"v":-0.00636},
      {"i":20,"v":-0.00748},{"i":24,"v":-0.00792},{"i":27,"v":-0.00725},{"i":30,"v":-0.00605},{"i":32,"v":-0.00392},{"i":35,"v":-0.00169},
      {"i":36,"v":-0.00058},{"i":38,"v":0.00057},{"i":41,"v":0.00105},{"i":43,"v":0.00095},{"i":46,"v":0},{"i":49,"v":-0.0008},
      {"i":52,"v":-0.00147},{"i":56,"v":-0.00116},{"i":59,"v":-0.0008},{"i":62,"v":-0.00036},{"i":66,"v":0.00105},{"i":69,"v":0.002},
      {"i":73,"v":0.00271},{"i":76,"v":0.00286},{"i":79,"v":0.00257},{"i":82,"v":0.002},{"i":84,"v":0.00114},{"i":88,"v":0.00048},
      {"i":90,"v":0},{"i":94,"v":-0.00036},{"i":97,"v":-0.0008},{"i":100,"v":-0.00102},{"i":104,"v":-0.0008},{"i":107,"v":-0.00089},
      {"i":111,"v":-0.00102},{"i":115,"v":-0.00102},{"i":118,"v":-0.00013},{"i":122,"v":0.00129},{"i":124,"v":0.00271},{"i":127,"v":0.00385},
      {"i":129,"v":0.003692}
    ],
    "stk": [
      {"i":0,"v":32.2},{"i":2,"v":58.7},{"i":4,"v":56.1},{"i":5,"v":41.4},{"i":7,"v":24.8},{"i":9,"v":32.9},{"i":10,"v":34},{"i":12,"v":13.8},
      {"i":14,"v":19.3},{"i":17,"v":21.1},{"i":19,"v":52.4},{"i":22,"v":45},{"i":24,"v":50.6},{"i":25,"v":74.5},{"i":27,"v":67.1},{"i":28,"v":52.4},
      {"i":30,"v":76.3},{"i":31,"v":96.6},{"i":33,"v":92.9},{"i":34,"v":81.8},{"i":35,"v":57.9},{"i":37,"v":24.8},{"i":39,"v":8.2},{"i":41,"v":11.9},
      {"i":42,"v":19.3},{"i":43,"v":13.8},{"i":45,"v":6.4},{"i":47,"v":10.1},{"i":49,"v":39.5},{"i":50,"v":70.8},{"i":51,"v":57.9},{"i":53,"v":58.7},
      {"i":55,"v":79.3},{"i":56,"v":50.6},{"i":58,"v":25.5},{"i":59,"v":46.9},{"i":61,"v":70.8},{"i":62,"v":63.4},{"i":64,"v":67.1},{"i":65,"v":78.2},
      {"i":67,"v":83.7},{"i":68,"v":92.9},{"i":69,"v":85.5},{"i":71,"v":61.6},{"i":73,"v":28.5},{"i":74,"v":24.8},{"i":76,"v":50.6},{"i":77,"v":54.2},
      {"i":79,"v":52.4},{"i":80,"v":39.5},{"i":82,"v":17.4},{"i":84,"v":10.1},{"i":86,"v":37.7},{"i":88,"v":81.8},{"i":90,"v":78.2},{"i":91,"v":65.3},
      {"i":93,"v":24.8},{"i":95,"v":45},{"i":97,"v":37.7},{"i":98,"v":30.3},{"i":100,"v":46.9},{"i":102,"v":81.8},{"i":103,"v":74.5},{"i":105,"v":39.5},
      {"i":106,"v":13.8},{"i":108,"v":4.6},{"i":110,"v":24.8},{"i":111,"v":56.1},{"i":113,"v":72.6},{"i":115,"v":59.8},{"i":116,"v":76.3},{"i":118,"v":72.6},
      {"i":119,"v":70.8},{"i":121,"v":81.8},{"i":124,"v":74.5},{"i":125,"v":86.6},{"i":126,"v":80},{"i":127,"v":62},{"i":128,"v":40},{"i":129,"v":14.2607}
    ],
    "std": [
      {"i":0,"v":26.6},{"i":3,"v":56.1},{"i":5,"v":54.2},{"i":6,"v":46.9},{"i":8,"v":32.2},{"i":9,"v":30.3},{"i":11,"v":28.5},{"i":13,"v":15.6},
      {"i":15,"v":18.2},{"i":17,"v":23},{"i":20,"v":48.7},{"i":23,"v":48.7},{"i":26,"v":69},{"i":28,"v":59.8},{"i":30,"v":81.8},{"i":33,"v":94.7},
      {"i":35,"v":80},{"i":36,"v":56.1},{"i":38,"v":32.2},{"i":40,"v":10.8},{"i":43,"v":15.6},{"i":46,"v":10.1},{"i":47,"v":11.9},{"i":49,"v":28.5},
      {"i":51,"v":57.9},{"i":53,"v":58.7},{"i":55,"v":70.8},{"i":57,"v":54.2},{"i":59,"v":34},{"i":60,"v":54.2},{"i":62,"v":65.3},{"i":64,"v":70.8},
      {"i":66,"v":81.8},{"i":68,"v":88.1},{"i":70,"v":74.5},{"i":72,"v":54.2},{"i":73,"v":35.8},{"i":75,"v":30.3},{"i":77,"v":43.2},{"i":79,"v":52.4},
      {"i":81,"v":45},{"i":82,"v":28.5},{"i":84,"v":13.8},{"i":87,"v":54.2},{"i":88,"v":72.6},{"i":90,"v":80},{"i":92,"v":57.9},{"i":94,"v":32.2},
      {"i":96,"v":41.4},{"i":98,"v":35.8},{"i":100,"v":39.5},{"i":102,"v":72.6},{"i":103,"v":78.2},{"i":106,"v":50.6},{"i":108,"v":21.1},{"i":109,"v":11.9},
      {"i":111,"v":37.7},{"i":113,"v":57.9},{"i":115,"v":65.3},{"i":117,"v":72.6},{"i":120,"v":76.3},{"i":122,"v":80.7},{"i":125,"v":81.8},{"i":127,"v":76.3},
      {"i":128,"v":57.9},{"i":129,"v":36.4007}
    ],
    "pricetix": [{"p":1.1194},{"p":1.1145},{"p":1.1095},{"p":1.1046},{"p":1.0997},{"p":1.0947},{"p":1.0898},{"p":1.0849},{"p":1.0799}],
    "stochtix": [{"s":100,"t":"100"},{"s":80,"t":"80"},{"s":20,"t":"20"},{"s":0,"t":"0"}]
  },
  "vconcat": [
    {
      "width": 654,
      "height": 274,
      "encoding": {
        "x": {"type": "quantitative", "scale": {"domain": [-0.125, 163.375], "nice": false, "zero": false}, "axis": null}
      },
      "layer": [
        {
          "data": {"name": "cloud"},
          "mark": {"type": "rule", "strokeDash": [3, 2], "strokeWidth": 1, "clip": true},
          "encoding": {
            "x": {"field": "i", "type": "quantitative"},
            "y": {"field": "a", "type": "quantitative", "scale": {"domain": [1.0793, 1.1204], "nice": false, "zero": false},
              "axis": {"orient": "right", "title": null, "values": [1.1194, 1.1145, 1.1095, 1.1046, 1.0997, 1.0947, 1.0898, 1.0849, 1.0799], "labels": false}},
            "y2": {"field": "b"},
            "color": {"condition": {"test": "datum.a >= datum.b", "value": "#F4A460"}, "value": "#D8BFD8"}
          }
        },
        {
          "data": {"name": "pricetix"},
          "mark": {"type": "text", "align": "left", "baseline": "middle", "color": "#000", "fontSize": 9.5},
          "encoding": {"x": {"datum": 164.4}, "y": {"field": "p", "type": "quantitative"}, "text": {"field": "p", "type": "quantitative", "format": ".5f"}}
        },
        {
          "data": {"name": "cloud"},
          "mark": {"type": "line", "color": "#F4A460", "strokeDash": [3, 2], "strokeWidth": 1, "clip": true},
          "encoding": {"x": {"field": "i", "type": "quantitative"}, "y": {"field": "a", "type": "quantitative"}}
        },
        {
          "data": {"name": "cloud"},
          "mark": {"type": "line", "color": "#D8BFD8", "strokeDash": [3, 2], "strokeWidth": 1, "clip": true},
          "encoding": {"x": {"field": "i", "type": "quantitative"}, "y": {"field": "b", "type": "quantitative"}}
        },
        {
          "data": {"name": "candles"},
          "mark": {"type": "rule", "color": "#000", "strokeWidth": 1},
          "encoding": {"x": {"field": "i", "type": "quantitative"}, "y": {"field": "l", "type": "quantitative"}, "y2": {"field": "h"}}
        },
        {
          "data": {"name": "candles"},
          "mark": {"type": "bar", "width": 2, "stroke": "#000", "strokeWidth": 1},
          "encoding": {
            "x": {"field": "i", "type": "quantitative"},
            "y": {"field": "o", "type": "quantitative"},
            "y2": {"field": "c"},
            "fill": {"condition": {"test": "datum.c > datum.o", "value": "#fff"}, "value": "#000"}
          }
        },
        {
          "data": {"name": "bb"},
          "mark": {"type": "line", "color": "#3CB371", "strokeWidth": 2.5, "clip": true},
          "encoding": {"x": {"field": "i", "type": "quantitative"}, "y": {"field": "v", "type": "quantitative"}, "detail": {"field": "s"}}
        },
        {
          "data": {"name": "chikou"},
          "mark": {"type": "line", "color": "#00FF00", "strokeWidth": 1, "clip": true},
          "encoding": {"x": {"field": "i", "type": "quantitative"}, "y": {"field": "v", "type": "quantitative"}}
        },
        {
          "data": {"name": "kijun"},
          "mark": {"type": "line", "color": "#0000FF", "strokeWidth": 1, "clip": true},
          "encoding": {"x": {"field": "i", "type": "quantitative"}, "y": {"field": "v", "type": "quantitative"}}
        },
        {
          "data": {"name": "tenkan"},
          "mark": {"type": "line", "color": "#FF0000", "strokeWidth": 1, "clip": true},
          "encoding": {"x": {"field": "i", "type": "quantitative"}, "y": {"field": "v", "type": "quantitative"}}
        },
        {
          "data": {"name": "levels"},
          "mark": {"type": "rule", "color": "#FF0000", "strokeWidth": 2},
          "encoding": {"y": {"field": "p", "type": "quantitative"}}
        },
        {
          "data": {"name": "levels"},
          "mark": {"type": "bar", "color": "#FF0000", "height": 12},
          "encoding": {"x": {"datum": 163.55}, "x2": {"datum": 175}, "y": {"field": "p", "type": "quantitative"}}
        },
        {
          "data": {"name": "last"},
          "mark": {"type": "bar", "color": "#000", "height": 12},
          "encoding": {"x": {"datum": 163.55}, "x2": {"datum": 175}, "y": {"field": "p", "type": "quantitative"}}
        },
        {
          "data": {"name": "levels"},
          "mark": {"type": "text", "align": "left", "baseline": "middle", "color": "#fff", "fontSize": 9.5},
          "encoding": {"x": {"datum": 164.1}, "y": {"field": "p", "type": "quantitative"}, "text": {"field": "p", "type": "quantitative", "format": ".5f"}}
        },
        {
          "data": {"name": "last"},
          "mark": {"type": "text", "align": "left", "baseline": "middle", "color": "#fff", "fontSize": 9.5},
          "encoding": {"x": {"datum": 164.1}, "y": {"field": "p", "type": "quantitative"}, "text": {"field": "p", "type": "quantitative", "format": ".5f"}}
        },
        {
          "data": {"values": [{"t": "▼ EURUSD,H4"}]},
          "mark": {"type": "text", "align": "left", "baseline": "middle", "color": "#000", "fontSize": 10},
          "encoding": {"x": {"datum": 0.6}, "y": {"datum": 1.1194}, "text": {"field": "t"}}
        }
      ]
    },
    {
      "width": 654,
      "height": 108,
      "encoding": {
        "x": {"type": "quantitative", "scale": {"domain": [-0.125, 163.375], "nice": false, "zero": false}, "axis": null}
      },
      "layer": [
        {
          "data": {"name": "macd"},
          "mark": {"type": "bar", "width": 3, "color": "#000080"},
          "encoding": {
            "x": {"field": "i", "type": "quantitative"},
            "y": {"field": "h", "type": "quantitative", "scale": {"domain": [-0.0092, 0.0056], "nice": false, "zero": false},
              "axis": {"orient": "right", "title": null, "values": [0.004951, 0, -0.008502], "labelFontSize": 8.8, "tickSize": 2, "labelPadding": 1,
                "labelExpr": "datum.value == 0 ? '0.00' : format(datum.value, '.6f')"}},
            "y2": {"datum": 0}
          }
        },
        {
          "data": {"name": "signal"},
          "mark": {"type": "line", "color": "#FF0000", "strokeWidth": 1, "strokeDash": [2, 2]},
          "encoding": {"x": {"field": "i", "type": "quantitative"}, "y": {"field": "v", "type": "quantitative"}}
        },
        {
          "data": {"values": [{"t": "MACD(12,26,9) 0.003094 0.003692"}]},
          "mark": {"type": "text", "align": "left", "baseline": "middle", "color": "#000", "fontSize": 9.5},
          "encoding": {"x": {"datum": 0.6}, "y": {"datum": 0.00395}, "text": {"field": "t"}}
        }
      ]
    },
    {
      "width": 654,
      "height": 90,
      "encoding": {
        "x": {"type": "quantitative", "scale": {"domain": [-0.125, 163.375], "nice": false, "zero": false},
          "axis": {"values": [0, 16, 32, 48, 64, 80, 96, 112, 128], "labelAlign": "left", "labelFlush": false, "labelDx": 1, "tickSize": 3, "labelPadding": 0, "title": null,
            "labelExpr": "['2 Mar 2022','7 Mar 04:00','9 Mar 20:00','14 Mar 08:00','17 Mar 00:00','21 Mar 12:00','24 Mar 04:00','28 Mar 20:00','31 Mar 12:00'][round(datum.value/16)]"}}
      },
      "layer": [
        {
          "data": {"values": [{"lv": 20}, {"lv": 80}]},
          "mark": {"type": "rule", "color": "#C0C0C0", "strokeDash": [4, 3], "strokeWidth": 1},
          "encoding": {
            "y": {"field": "lv", "type": "quantitative", "scale": {"domain": [0, 100], "nice": false, "zero": false},
              "axis": {"orient": "right", "title": null, "values": [0, 20, 80, 100], "labels": false}}
          }
        },
        {
          "data": {"name": "stochtix"},
          "mark": {"type": "text", "align": "left", "baseline": "middle", "color": "#000", "fontSize": 9.5},
          "encoding": {
            "x": {"datum": 164.4},
            "y": {"field": "s", "type": "quantitative"},
            "yOffset": {"condition": [{"test": "datum.s == 100", "value": 6}, {"test": "datum.s == 0", "value": -6}], "value": 0},
            "text": {"field": "t"}
          }
        },
        {
          "data": {"name": "stk"},
          "mark": {"type": "line", "color": "#20B2AA", "strokeWidth": 1},
          "encoding": {"x": {"field": "i", "type": "quantitative"}, "y": {"field": "v", "type": "quantitative"}}
        },
        {
          "data": {"name": "std"},
          "mark": {"type": "line", "color": "#FF0000", "strokeWidth": 1, "strokeDash": [3, 2]},
          "encoding": {"x": {"field": "i", "type": "quantitative"}, "y": {"field": "v", "type": "quantitative"}}
        },
        {
          "data": {"values": [{"t": "Stoch(5,3,3) 14.2607 36.4007"}]},
          "mark": {"type": "text", "align": "left", "baseline": "middle", "color": "#000", "fontSize": 9.5},
          "encoding": {"x": {"datum": 0.6}, "y": {"datum": 90}, "text": {"field": "t"}}
        }
      ]
    }
  ]
}
